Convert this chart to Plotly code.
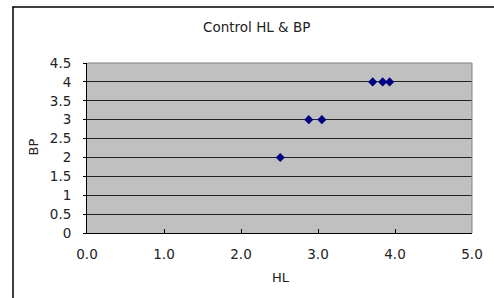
import plotly.graph_objects as go

hl = [2.51, 2.88, 3.05, 3.71, 3.84, 3.93]
bp = [2, 3, 3, 4, 4, 4]
x_ticks = [0, 1, 2, 3, 4, 5]
x_labels = ["0.0", "1.0", "2.0", "3.0", "4.0", "5.0"]
y_ticks = [0, 0.5, 1, 1.5, 2, 2.5, 3, 3.5, 4, 4.5]
y_labels = ["0", "0.5", "1", "1.5", "2", "2.5", "3", "3.5", "4", "4.5"]

FONT = "DejaVu Sans, Verdana, sans-serif"
TXT = "#222"

fig = go.Figure()
fig.add_trace(go.Scatter(
    x=hl, y=bp, mode="markers",
    marker=dict(symbol="diamond", size=7, color="#000080"),
    showlegend=False, cliponaxis=False,
))

W, H = 494, 298
L, R, T, B = 87, 22, 63, 65
pw, ph = W - L - R, H - T - B


def px(xp):
    return (xp - L) / pw


def py(yp):
    return 1 - (yp - T) / ph


fig.update_layout(
    width=W, height=H,
    margin=dict(l=L, r=R, t=T, b=B),
    paper_bgcolor="white",
    plot_bgcolor="#c0c0c0",
    font=dict(family=FONT, size=13, color=TXT),
    title=dict(text="Control HL &amp; BP", x=px(256.7), xref="paper", xanchor="center",
               y=1 - 27 / H, yanchor="middle", font=dict(size=13.5, family=FONT, color=TXT)),
    xaxis=dict(
        range=[0, 5], tickvals=x_ticks, ticktext=x_labels,
        showgrid=False, zeroline=False,
        showline=True, linecolor="#000", linewidth=1,
        ticks="inside", ticklen=4, tickcolor="#000",
        ticklabelstandoff=9,
        tickfont=dict(size=13.5, color=TXT),
    ),
    yaxis=dict(
        range=[0, 4.5], tickvals=y_ticks, ticktext=y_labels,
        showgrid=True, gridcolor="#222", gridwidth=1,
        zeroline=False,
        showline=True, linecolor="#000", linewidth=1,
        ticks="outside", ticklen=3, tickcolor="#000",
        ticklabelstandoff=9,
        tickfont=dict(size=13.5, color=TXT),
    ),
    annotations=[
        dict(text="HL", xref="paper", yref="paper", x=px(280.5), y=py(277),
             xanchor="center", yanchor="middle", showarrow=False,
             font=dict(size=13, color=TXT)),
        dict(text="BP", xref="paper", yref="paper", x=px(33), y=py(147.5),
             xanchor="center", yanchor="middle", showarrow=False, textangle=-90,
             font=dict(size=13, color=TXT)),
    ],
    shapes=[
        dict(type="line", xref="paper", yref="paper", x0=px(13), x1=px(13), y0=py(6.5), y1=py(300),
             line=dict(color="#000", width=1.5)),
        dict(type="line", xref="paper", yref="paper", x0=px(12.5), x1=px(500), y0=py(7), y1=py(7),
             line=dict(color="#000", width=1.5)),
        dict(type="line", xref="paper", yref="paper", x0=0, x1=1, y0=1, y1=1,
             line=dict(color="#808080", width=1)),
        dict(type="line", xref="paper", yref="paper", x0=1, x1=1, y0=0, y1=1,
             line=dict(color="#808080", width=1)),
    ],
)

fig.write_html("out.html", config={"displayModeBar": False},
               post_script="document.body.style.margin='0px';")
